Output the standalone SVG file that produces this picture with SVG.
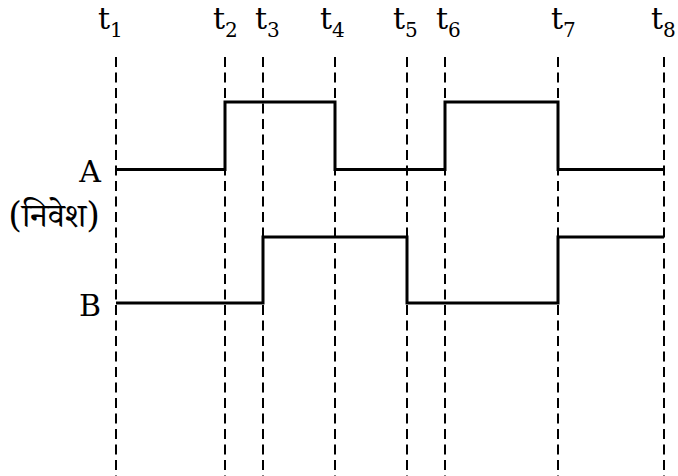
<svg xmlns="http://www.w3.org/2000/svg" width="678" height="476" viewBox="0 0 678 476">
<style>
.grid line{stroke:#000;stroke-width:2;stroke-dasharray:10 5.5}
.sig{fill:none;stroke:#000;stroke-width:3;stroke-linejoin:miter}
.lbl{font-family:"DejaVu Serif","Liberation Serif",serif;font-size:30px;fill:#000}
.sub{font-size:20px}
.par{font-size:35px}
.hin{font-family:"Noto Serif Devanagari","Noto Sans Devanagari","Lohit Devanagari","DejaVu Serif",serif;font-size:34px;fill:#000}
</style>
<rect width="678" height="476" fill="#fff"/>
<g id="gridlines" class="grid">
<line x1="116" y1="57" x2="116" y2="476"/>
<line x1="225" y1="57" x2="225" y2="476"/>
<line x1="263" y1="57" x2="263" y2="476"/>
<line x1="335" y1="57" x2="335" y2="476"/>
<line x1="407" y1="57" x2="407" y2="476"/>
<line x1="445" y1="57" x2="445" y2="476"/>
<line x1="558" y1="57" x2="558" y2="476"/>
<line x1="664" y1="57" x2="664" y2="476"/>
</g>
<g id="time-labels" class="lbl">
<text x="98" y="29">t<tspan class="sub" dy="8">1</tspan></text>
<text x="213" y="29">t<tspan class="sub" dy="8">2</tspan></text>
<text x="255" y="29">t<tspan class="sub" dy="8">3</tspan></text>
<text x="320" y="29">t<tspan class="sub" dy="8">4</tspan></text>
<text x="393" y="29">t<tspan class="sub" dy="8">5</tspan></text>
<text x="436" y="29">t<tspan class="sub" dy="8">6</tspan></text>
<text x="551" y="29">t<tspan class="sub" dy="8">7</tspan></text>
<text x="651" y="29">t<tspan class="sub" dy="8">8</tspan></text>
</g>
<g id="signal-A">
<text class="lbl" x="101" y="182" text-anchor="end">A</text>
<polyline class="sig" points="116,169.5 225,169.5 225,102 335,102 335,169.5 445,169.5 445,102 558,102 558,169.5 664,169.5"/>
</g>
<g id="input-label">
<text class="lbl" x="100" y="227" text-anchor="end"><tspan class="par">(</tspan><tspan class="hin">निवेश</tspan><tspan class="par">)</tspan></text>
</g>
<g id="signal-B">
<text class="lbl" x="101" y="316" text-anchor="end">B</text>
<polyline class="sig" points="116,303 263,303 263,237 407,237 407,303 558,303 558,237 664,237"/>
</g>
</svg>
